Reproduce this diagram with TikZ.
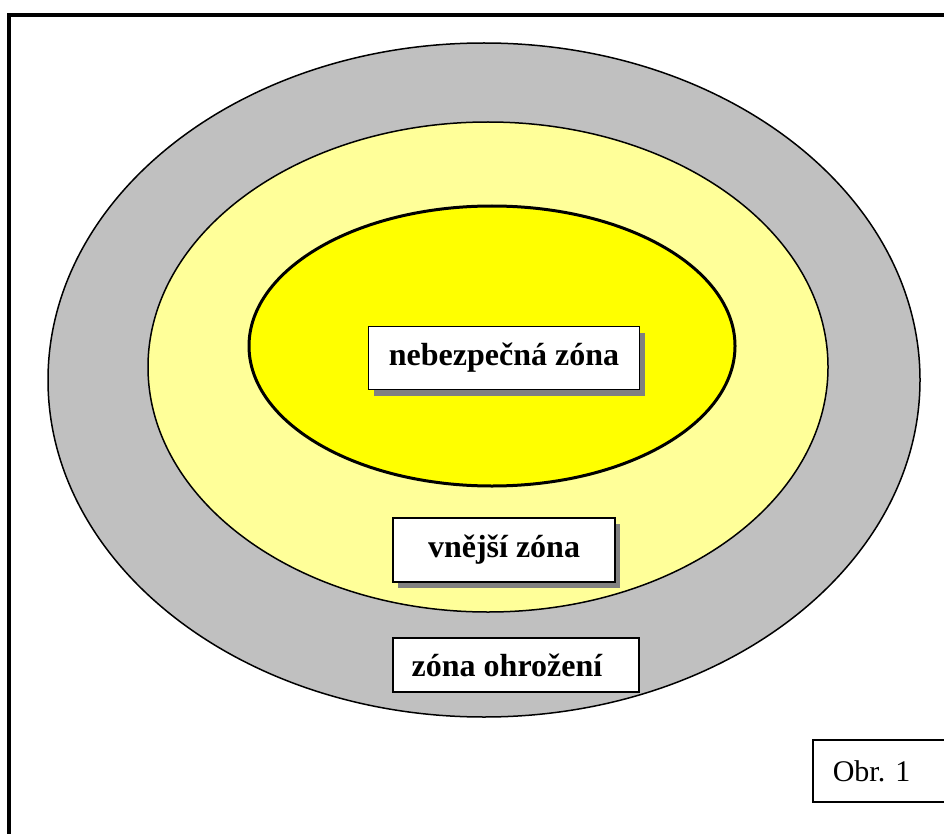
\documentclass[tikz,border=0pt]{standalone}
\usepackage{fontspec}
\setmainfont{Liberation Serif}
\usepackage{tikz}
\usetikzlibrary{shapes,shadows}
\usetikzlibrary{positioning}
\definecolor{zonegray}{HTML}{C0C0C0}
\definecolor{paleyellow}{HTML}{FFFF99}
\definecolor{fullyellow}{HTML}{FFFF00}
\definecolor{shadowgray}{HTML}{808080}
\tikzstyle{zone} = [
	draw,
	line width = 1.5pt
]
\tikzstyle{label} = [
	draw,
	rectangle,
	fill = white,
	line width = 1.5pt,
	font = \fontsize{32}{36}\selectfont\bfseries
]
\tikzstyle{shaded} = [
	drop shadow = {shadow xshift = 5pt, shadow yshift = -6pt, fill = shadowgray, opacity = 1}
]

\begin{document}
\begin{tikzpicture}[x=1pt, y=-1pt]
	\useasboundingbox (0,0) rectangle (944,834);
	\clip (0,0) rectangle (944,834);
	\draw[line width=3.5pt] (9,15) rectangle (960,850);
	
	\filldraw[zone, fill=zonegray] (484,380) ellipse [x radius=436, y radius=337];
	\filldraw[zone, fill=paleyellow] (488,367) ellipse [x radius=340, y radius=245];
	\filldraw[zone, fill=fullyellow, line width=3pt] (492,346) ellipse [x radius=243, y radius=140];
	
	\node[label, shaded, minimum width=271, minimum height=63] (danger) at (504,358) {nebezpečná zóna};
	\node[label, shaded, minimum width=222, minimum height=64] (outer) at (504,550) {vnější zóna};
	\node[label, minimum width=246, minimum height=54] (threat) at (516,665) {\hspace*{-18pt}zóna ohrožení};
	\node[draw, line width=1.5pt, anchor=west, minimum height=62, inner xsep=20, text width=110, align=left, font=\fontsize{30}{34}\selectfont] (fig) at (812,771) {Obr.\ 1};
	
\end{tikzpicture}
\end{document}
